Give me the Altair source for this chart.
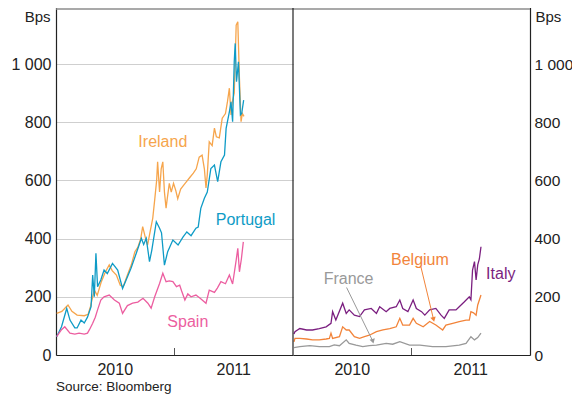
import altair as alt
import pandas as pd

# ---------------- data ----------------
ireland_dates = ["2010-01-03","2010-01-19","2010-02-01","2010-02-07","2010-02-19","2010-03-07","2010-03-29","2010-04-10","2010-04-17","2010-04-29","2010-05-08","2010-05-20","2010-06-02","2010-06-14","2010-06-23","2010-07-06","2010-07-18","2010-07-27","2010-08-09","2010-08-21","2010-09-01","2010-09-10","2010-09-19","2010-09-25","2010-10-04","2010-10-10","2010-10-19","2010-10-26","2010-11-01","2010-11-07","2010-11-10","2010-11-16","2010-11-21","2010-11-26","2010-12-01","2010-12-06","2010-12-10","2010-12-16","2010-12-22","2010-12-29","2011-01-05","2011-01-11","2011-01-20","2011-01-30","2011-02-07","2011-02-17","2011-02-28","2011-03-09","2011-03-18","2011-03-27","2011-04-03","2011-04-08","2011-04-12","2011-04-18","2011-04-27","2011-05-04","2011-05-10","2011-05-19","2011-05-28","2011-06-07","2011-06-13","2011-06-19","2011-06-24","2011-06-28","2011-07-04","2011-07-10","2011-07-15","2011-07-20","2011-07-25","2011-07-29","2011-08-03"]
ireland_bps = [143,150,165,172,150,137,135,140,166,223,205,250,285,310,290,275,240,235,275,310,355,370,400,441,400,378,430,470,533,600,664,560,640,664,560,505,540,590,560,590,565,537,570,585,596,610,625,640,680,687,640,574,620,733,720,780,750,746,814,830,870,917,825,870,900,1134,1145,951,802,830,820]

portugal_dates = ["2010-01-03","2010-01-18","2010-02-03","2010-02-13","2010-02-28","2010-03-07","2010-03-19","2010-03-29","2010-04-08","2010-04-19","2010-04-24","2010-04-29","2010-05-04","2010-05-09","2010-05-19","2010-05-29","2010-06-08","2010-06-24","2010-07-10","2010-07-25","2010-08-05","2010-08-20","2010-09-05","2010-09-21","2010-09-28","2010-10-06","2010-10-16","2010-10-23","2010-11-06","2010-11-16","2010-11-22","2010-12-01","2010-12-11","2010-12-27","2011-01-12","2011-01-27","2011-02-08","2011-02-21","2011-03-08","2011-03-15","2011-03-23","2011-04-03","2011-04-12","2011-04-23","2011-05-04","2011-05-14","2011-05-24","2011-06-04","2011-06-09","2011-06-19","2011-06-24","2011-06-29","2011-07-04","2011-07-07","2011-07-11","2011-07-17","2011-07-23","2011-07-27","2011-08-02"]
portugal_bps = [63,97,160,120,93,93,120,110,130,166,275,200,350,235,258,292,280,315,292,229,258,298,349,401,380,401,321,360,458,436,420,309,355,395,378,405,423,410,436,440,504,539,560,641,653,596,664,687,779,836,870,802,1008,1071,939,1008,825,830,876]

spain_dates = ["2010-01-03","2010-01-18","2010-01-28","2010-02-13","2010-02-28","2010-03-13","2010-03-29","2010-04-08","2010-04-14","2010-04-24","2010-05-02","2010-05-09","2010-05-19","2010-05-29","2010-06-14","2010-06-30","2010-07-15","2010-07-25","2010-08-09","2010-08-25","2010-09-10","2010-09-26","2010-10-11","2010-10-21","2010-11-01","2010-11-16","2010-11-26","2010-12-06","2010-12-16","2010-12-27","2011-01-07","2011-01-17","2011-01-23","2011-02-02","2011-02-11","2011-02-21","2011-03-08","2011-03-21","2011-04-08","2011-04-18","2011-05-04","2011-05-13","2011-05-24","2011-06-07","2011-06-19","2011-06-29","2011-07-10","2011-07-15","2011-07-20","2011-07-26","2011-08-01"]
spain_bps = [63,87,97,75,72,75,72,75,87,109,130,155,189,200,206,189,178,143,170,178,182,195,178,161,200,246,281,252,255,252,235,240,220,189,210,200,206,195,178,223,215,230,252,245,275,244,326,367,286,330,389]

italy_dates = ["2010-01-04","2010-01-07","2010-01-22","2010-02-12","2010-03-02","2010-03-23","2010-04-13","2010-04-28","2010-05-03","2010-05-13","2010-06-03","2010-06-14","2010-06-23","2010-07-09","2010-07-25","2010-08-09","2010-08-30","2010-09-15","2010-09-25","2010-10-15","2010-10-26","2010-11-15","2010-11-26","2010-12-05","2010-12-21","2011-01-06","2011-01-16","2011-02-01","2011-02-11","2011-02-26","2011-03-17","2011-04-02","2011-04-12","2011-04-27","2011-05-18","2011-05-28","2011-06-13","2011-06-28","2011-07-03","2011-07-08","2011-07-14","2011-07-19","2011-07-24","2011-07-29","2011-08-03"]
italy_bps = [72,80,91,86,86,91,97,109,149,120,178,143,155,137,132,155,160,143,166,149,160,166,189,160,149,189,160,149,137,155,160,137,126,155,155,166,183,200,190,292,321,258,310,330,372]

belgium_dates = ["2010-01-04","2010-01-07","2010-01-22","2010-02-12","2010-03-02","2010-03-23","2010-04-13","2010-04-23","2010-04-28","2010-05-03","2010-05-24","2010-06-03","2010-06-14","2010-06-23","2010-07-09","2010-07-25","2010-08-09","2010-08-24","2010-09-15","2010-10-05","2010-10-26","2010-11-15","2010-11-26","2010-12-05","2010-12-26","2011-01-06","2011-01-16","2011-02-06","2011-02-26","2011-03-17","2011-04-07","2011-04-17","2011-05-08","2011-05-28","2011-06-18","2011-06-28","2011-07-03","2011-07-11","2011-07-19","2011-07-24","2011-08-03"]
belgium_bps = [45,57,57,55,52,52,55,57,75,57,63,97,86,86,63,57,63,68,80,86,91,97,126,103,103,126,109,97,115,103,86,103,109,115,120,120,149,145,137,172,206]

france_dates = ["2010-01-04","2010-01-22","2010-02-22","2010-03-23","2010-04-23","2010-05-08","2010-05-24","2010-06-14","2010-06-23","2010-07-14","2010-08-04","2010-08-24","2010-09-15","2010-10-15","2010-11-04","2010-11-26","2010-12-26","2011-01-27","2011-03-07","2011-04-17","2011-05-28","2011-06-18","2011-07-03","2011-07-14","2011-07-24","2011-08-03"]
france_bps = [25,29,32,29,29,35,32,52,40,34,29,32,34,40,37,46,34,34,29,29,34,40,63,52,60,75]

countries = ["Ireland", "Portugal", "Spain", "Italy", "Belgium", "France"]
colours = ["#F6A54C", "#0E9BC6", "#EC5EA0", "#7B1F80", "#F2843A", "#999999"]

left_label_names = ["Ireland", "Portugal", "Spain"]
left_label_dates = ["2010-11-26", "2011-08-08", "2011-02-11"]
left_label_bps = [732, 464, 113]

right_label_names = ["Belgium", "France", "Italy"]
right_label_dates = ["2011-01-27", "2010-06-21", "2011-10-03"]
right_label_bps = [326, 261, 278]

arrow_names = ["Belgium", "France"]
arrow_from_dates = ["2011-01-30", "2010-06-15"]
arrow_from_bps = [303, 232]
arrow_to_dates = ["2011-03-10", "2010-09-04"]
arrow_to_bps = [122, 47]
arrow_angles = [166, 164]

y_ticks = [0, 200, 400, 600, 800, 1000]

# ---------------- tables ----------------
def sdf(name, d, v):
    return pd.DataFrame({"date": d, "bps": v, "country": name})

left_df = pd.concat([sdf("Ireland", ireland_dates, ireland_bps),
                     sdf("Portugal", portugal_dates, portugal_bps),
                     sdf("Spain", spain_dates, spain_bps)])
right_df = pd.concat([sdf("Italy", italy_dates, italy_bps),
                      sdf("Belgium", belgium_dates, belgium_bps),
                      sdf("France", france_dates, france_bps)])
left_lab = pd.DataFrame({"country": left_label_names, "date": left_label_dates, "bps": left_label_bps})
right_lab = pd.DataFrame({"country": right_label_names, "date": right_label_dates, "bps": right_label_bps})
arrows = pd.DataFrame({"country": arrow_names, "date": arrow_from_dates, "bps": arrow_from_bps,
                       "date2": arrow_to_dates, "bps2": arrow_to_bps, "ang": arrow_angles})
tick_df = pd.DataFrame({"date": ["2011-01-01"]})
src_df = pd.DataFrame({"t": ["Source: Bloomberg"]})

# ---------------- encodings ----------------
PW = 237            # width of one panel
W, H = 2 * PW, 350  # whole plot area
YMAX = 1203
FONT = "Liberation Sans"
INK = "#222222"

x_domain = [alt.DateTime(year=2010, month=1, date=1, utc=True),
            alt.DateTime(year=2012, month=1, date=1, utc=True)]
yscale = alt.Scale(domain=[0, YMAX], nice=False, zero=True)
cscale = alt.Scale(domain=countries, range=colours)
colour = alt.Color("country:N", scale=cscale, legend=None)

def xaxis():
    return alt.Axis(orient="bottom",
                    values=[alt.DateTime(year=2010, month=7, date=1, utc=True),
                            alt.DateTime(year=2011, month=7, date=1, utc=True)],
                    labelExpr="utcFormat(datum.value, '%Y')",
                    tickSize=0, labelPadding=6, grid=False,
                    domainColor=INK, domainWidth=1.2, labelFontSize=16,
                    labelColor=INK, labelFont=FONT, title=None)

def yaxis(orient):
    left = orient == "left"
    return alt.Axis(orient=orient, values=y_ticks,
                    labelExpr="datum.value == 1000 ? '1 000' : datum.label",
                    tickSize=0, labelPadding=5 if left else 4,
                    domainColor=INK, domainWidth=1.2,
                    grid=True, gridColor="#CFCFCF", gridWidth=1,
                    labelFontSize=16 if left else 15.5, labelColor=INK, labelFont=FONT,
                    title="Bps", titleAngle=0, titleFontSize=15, titleFontWeight="normal",
                    titleColor=INK, titleFont=FONT,
                    titleAlign="right" if left else "left", titleBaseline="middle",
                    titleX=-6 if left else 5, titleY=11)

def panel(df, lab, side, extra):
    rng = [0, PW] if side == "left" else [PW, W]
    xs = alt.Scale(domain=x_domain, range=rng)

    def X(f="date"):
        return alt.X(f"{f}:T", scale=xs, axis=xaxis(), title=None)

    def Y(f="bps"):
        return alt.Y(f"{f}:Q", scale=yscale, axis=yaxis(side), title="Bps")

    lines = alt.Chart(df).mark_line(strokeWidth=1.3).encode(
        x=X(), y=Y(), color=colour, order="date:T")
    tick = alt.Chart(tick_df).mark_rule(color="#555555", strokeWidth=1).encode(
        x=X(), y=alt.value(H - 7), y2=alt.value(H))
    text = alt.Chart(lab).mark_text(fontSize=16, font=FONT, align="center",
                                    baseline="middle").encode(
        x=X(), y=Y(), text="country:N", color=colour)
    layers = [lines, tick, text]
    for kind, d in extra:
        if kind == "arrows":
            layers.append(alt.Chart(d).mark_rule(strokeWidth=1).encode(
                x=X(), x2="date2:T", y=Y(), y2="bps2:Q", color=colour))
            layers.append(alt.Chart(d).mark_point(shape="triangle-up", filled=True,
                                                  size=30, opacity=1).encode(
                x=X("date2"), y=Y("bps2"), angle=alt.Angle("ang:Q", scale=None), color=colour))
    return alt.layer(*layers)

left = panel(left_df, left_lab, "left", [])
right = panel(right_df, right_lab, "right", [("arrows", arrows)])

top_border = alt.Chart(src_df).mark_rule(color="#8C8C8C", strokeWidth=1.5).encode(
    x=alt.value(0), x2=alt.value(W), y=alt.value(4))
divider = alt.Chart(src_df).mark_rule(color=INK, strokeWidth=1.2).encode(
    x=alt.value(PW), y=alt.value(0), y2=alt.value(H))
source = alt.Chart(src_df).mark_text(align="left", baseline="bottom", fontSize=13.5,
                                     font=FONT, color=INK).encode(
    text="t:N", x=alt.value(0), y=alt.value(389))

chart = alt.layer(left, right, top_border, divider, source).resolve_scale(
    x="independent", y="independent"
).resolve_axis(x="independent", y="independent").properties(
    width=W, height=H,
    autosize=alt.AutoSizeParams(type="none"),
    padding={"left": 48, "top": -3, "right": 42, "bottom": 39},
).configure_view(stroke=None).configure(font=FONT, background="white")

chart.save("out.html", embed_options={"renderer": "svg", "actions": False})
